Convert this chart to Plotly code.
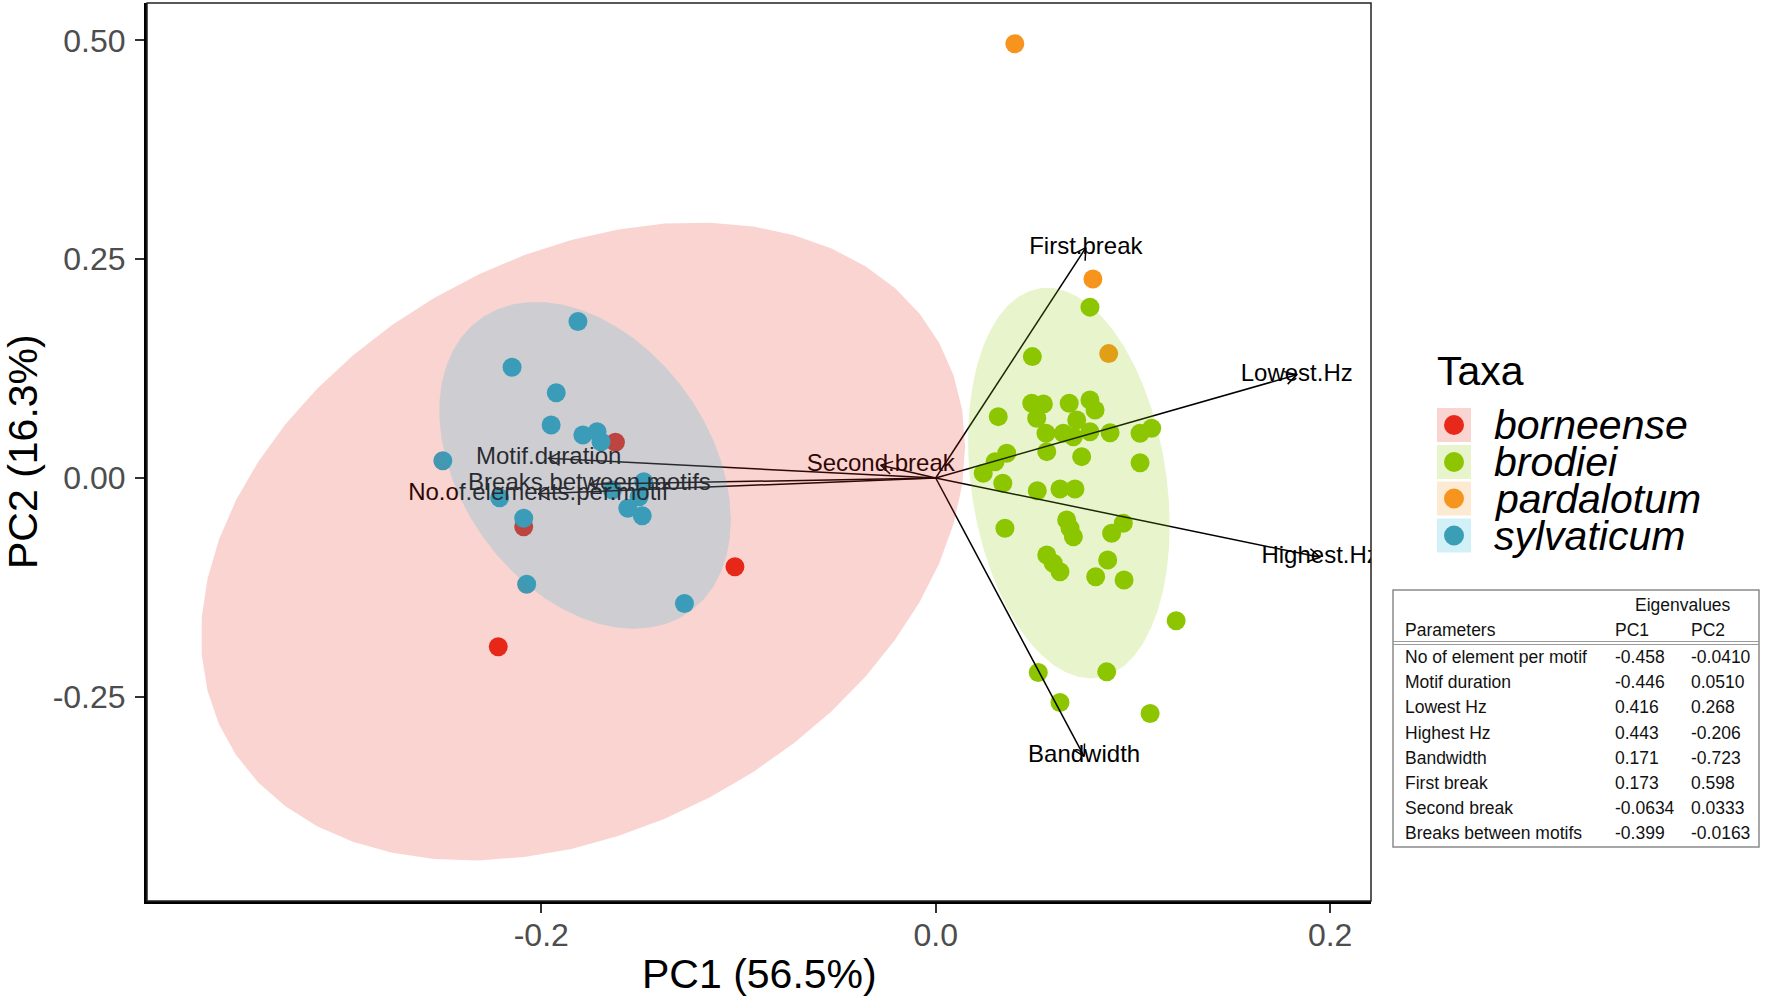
import numpy as np
import plotly.graph_objects as go

# ---------------- data ----------------
TAXA = ["borneense", "brodiei", "pardalotum", "sylvaticum"]
TAXA_COLORS = ["#E8281A", "#8DC600", "#F7941D", "#1BB3D7"]
LEGEND_DOT_COLORS = ["#E8281A", "#8DC600", "#F7941D", "#3A9FB4"]

BORNEENSE_PC1 = [-0.1624, -0.2089, -0.1018, -0.2218]
BORNEENSE_PC2 = [0.0408, -0.0557, -0.1014, -0.1929]

BRODIEI_PC1 = [0.0782, 0.0490, 0.0317, 0.0487, 0.0546, 0.0512, 0.0677, 0.0782, 0.0808, 0.0715,
               0.0559, 0.0647, 0.0698, 0.0782, 0.0884, 0.1036, 0.1095, 0.0360, 0.0301, 0.0241,
               0.0563, 0.0740, 0.1036, 0.0340, 0.0515, 0.0630, 0.0706, 0.0351, 0.0664, 0.0681,
               0.0698, 0.0892, 0.0951, 0.0563, 0.0596, 0.0630, 0.0872, 0.0811, 0.0955, 0.1219,
               0.0520, 0.0867, 0.0630, 0.1087]
BRODIEI_PC2 = [0.1952, 0.1387, 0.0701, 0.0854, 0.0846, 0.0683, 0.0854, 0.0892, 0.0777, 0.0663,
               0.0511, 0.0511, 0.0472, 0.0529, 0.0518, 0.0511, 0.0568, 0.0282, 0.0186, 0.0054,
               0.0301, 0.0244, 0.0175, -0.0061, -0.0145, -0.0126, -0.0126, -0.0575, -0.0480, -0.0575,
               -0.0671, -0.0632, -0.0518, -0.0880, -0.0975, -0.1071, -0.0938, -0.1129, -0.1166, -0.1632,
               -0.2222, -0.2215, -0.2565, -0.2690]

PARDALOTUM_PC1 = [0.0401, 0.0797, 0.0877]
PARDALOTUM_PC2 = [0.4961, 0.2274, 0.1421]

SYLVATICUM_PC1 = [-0.1814, -0.2148, -0.1924, -0.1950, -0.1789, -0.1717, -0.1697, -0.2499, -0.1480,
                  -0.1639, -0.2211, -0.1504, -0.1561, -0.1488, -0.2089, -0.2074, -0.1274]
SYLVATICUM_PC2 = [0.1787, 0.1266, 0.0975, 0.0606, 0.0492, 0.0529, 0.0415, 0.0198, -0.0042,
                  -0.0137, -0.0225, -0.0214, -0.0346, -0.0431, -0.0461, -0.1215, -0.1433]

TAXA_PC1 = [BORNEENSE_PC1, BRODIEI_PC1, PARDALOTUM_PC1, SYLVATICUM_PC1]
TAXA_PC2 = [BORNEENSE_PC2, BRODIEI_PC2, PARDALOTUM_PC2, SYLVATICUM_PC2]
ELLIPSE_TAXA = ["borneense", "brodiei", "sylvaticum"]

# variable loadings (eigenvectors)
VAR_LABELS = ["No.of.elements.per.motif", "Motif.duration", "Lowest.Hz", "Highest.Hz",
              "Bandwidth", "First.break", "Second.break", "Breaks.between.motifs"]
TABLE_PARAMS = ["No of element per motif", "Motif duration", "Lowest Hz", "Highest Hz",
                "Bandwidth", "First break", "Second break", "Breaks between motifs"]
LOAD_PC1 = [-0.458, -0.446, 0.416, 0.443, 0.171, 0.173, -0.0634, -0.399]
LOAD_PC2 = [-0.0410, 0.0510, 0.268, -0.206, -0.723, 0.598, 0.0333, -0.0163]
LOAD_PC1_TXT = ["-0.458", "-0.446", "0.416", "0.443", "0.171", "0.173", "-0.0634", "-0.399"]
LOAD_PC2_TXT = ["-0.0410", "0.0510", "0.268", "-0.206", "-0.723", "0.598", "0.0333", "-0.0163"]
ARROW_SCALE = 0.44

X_TICKS = [-0.2, 0.0, 0.2]
X_TICK_TEXT = ["-0.2", "0.0", "0.2"]
Y_TICKS = [-0.25, 0.0, 0.25, 0.50]
Y_TICK_TEXT = ["-0.25", "0.00", "0.25", "0.50"]
X_TITLE = "PC1 (56.5%)"
Y_TITLE = "PC2 (16.3%)"

# ---------------- layout geometry ----------------
W, H = 1772, 1003
ML, MR, MT, MB = 147, 401, 3, 102
PW, PH = W - ML - MR, H - MT - MB
X_RANGE = [-0.3999, 0.2207]
Y_RANGE = [-0.4833, 0.5427]
SX = PW / (X_RANGE[1] - X_RANGE[0])
SY = PH / (Y_RANGE[1] - Y_RANGE[0])
FONT = "Liberation Sans, Arial, Helvetica, sans-serif"


def px_x(px):
    return (px - ML) / PW


def px_y(py):
    return (H - MB - py) / PH


def rgba(hexc, a):
    h = hexc.lstrip("#")
    r, g, b = int(h[0:2], 16), int(h[2:4], 16), int(h[4:6], 16)
    return f"rgba({r},{g},{b},{a})"


# ---------------- ellipse (ggplot2 stat_ellipse, type = "t") ----------------
def cov_trob(X, nu=5, maxit=25, tol=0.01):
    n, p = X.shape
    wt = np.ones(n)
    loc = X.mean(axis=0)
    w = np.sqrt(wt)
    Xc = X - loc
    for _ in range(maxit):
        w0 = w
        Xc = X - loc
        A = np.sqrt(w / w.sum())[:, None] * Xc
        _, d, Vt = np.linalg.svd(A, full_matrices=False)
        wX = Xc @ Vt.T @ np.diag(1.0 / d)
        Q = (wX ** 2).sum(axis=1)
        w = wt * (nu + p) / (nu + Q)
        loc = (w[:, None] * X).sum(axis=0) / w.sum()
        if np.all(np.abs(w - w0) < tol):
            break
    B = np.sqrt(w)[:, None] * Xc
    cov = B.T @ B / wt.sum()
    return loc, cov


def qf2(p, d2):
    # quantile of F(2, d2)
    return (d2 / 2.0) * ((1.0 - p) ** (-2.0 / d2) - 1.0)


def ellipse_path(xs, ys, level=0.95, segments=51):
    X = np.column_stack([xs, ys])
    center, shape = cov_trob(X)
    R = np.linalg.cholesky(shape).T
    radius = np.sqrt(2 * qf2(level, X.shape[0] - 1))
    ang = np.arange(segments + 1) * 2 * np.pi / segments
    circ = np.column_stack([np.cos(ang), np.sin(ang)])
    e = center + radius * (circ @ R)
    return e[:, 0], e[:, 1]


fig = go.Figure()

# points
for name, col, xs, ys in zip(TAXA, TAXA_COLORS, TAXA_PC1, TAXA_PC2):
    fig.add_trace(go.Scatter(x=xs, y=ys, mode="markers", name=name, showlegend=False,
                             marker=dict(size=19, color=col, line=dict(width=0))))

# arrows
AH_LEN = 13.0
AH_ANG = np.deg2rad(30)
ax_, ay_ = [], []
for lx, ly in zip(LOAD_PC1, LOAD_PC2):
    tx, ty = lx * ARROW_SCALE, ly * ARROW_SCALE
    ax_ += [0, tx, None]
    ay_ += [0, ty, None]
    dx, dy = tx * SX, ty * SY
    nrm = np.hypot(dx, dy)
    ux, uy = dx / nrm, dy / nrm
    pts = []
    for s in (1, -1):
        c, sn = np.cos(s * AH_ANG), np.sin(s * AH_ANG)
        rx, ry = ux * c - uy * sn, ux * sn + uy * c
        pts.append((tx - AH_LEN * rx / SX, ty - AH_LEN * ry / SY))
    ax_ += [pts[0][0], tx, pts[1][0], None]
    ay_ += [pts[0][1], ty, pts[1][1], None]
fig.add_trace(go.Scatter(x=ax_, y=ay_, mode="lines", showlegend=False,
                         line=dict(color="black", width=1.5), hoverinfo="skip"))

fig.add_trace(go.Scatter(x=[v * ARROW_SCALE for v in LOAD_PC1],
                         y=[v * ARROW_SCALE for v in LOAD_PC2],
                         mode="text", text=VAR_LABELS, textposition="middle center",
                         textfont=dict(family=FONT, size=24, color="black"),
                         showlegend=False, hoverinfo="skip"))

# ellipses (drawn on top, translucent)
for name, col, xs, ys in zip(TAXA, TAXA_COLORS, TAXA_PC1, TAXA_PC2):
    if name not in ELLIPSE_TAXA:
        continue
    ex, ey = ellipse_path(np.array(xs), np.array(ys))
    fig.add_trace(go.Scatter(x=ex, y=ey, mode="lines", fill="toself",
                             fillcolor=rgba(col, 0.2), line=dict(width=0, color=rgba(col, 0)),
                             showlegend=False, hoverinfo="skip"))

shapes = []
annotations = []

# panel border (thin) on top / right
shapes.append(dict(type="rect", xref="paper", yref="paper", x0=0, x1=1, y0=0, y1=1,
                   line=dict(color="#222", width=1.5), layer="above"))

# axis titles
annotations.append(dict(text=X_TITLE, xref="paper", yref="paper", x=0.5, y=px_y(974),
                        xanchor="center", yanchor="middle", showarrow=False,
                        font=dict(family=FONT, size=41, color="black")))
annotations.append(dict(text=Y_TITLE, xref="paper", yref="paper", x=px_x(23), y=0.5,
                        xanchor="center", yanchor="middle", showarrow=False, textangle=-90,
                        font=dict(family=FONT, size=41, color="black")))

# legend (manual)
annotations.append(dict(text="Taxa", xref="paper", yref="paper", x=px_x(1435), y=px_y(371),
                        xanchor="left", yanchor="middle", showarrow=False,
                        font=dict(family=FONT, size=41, color="black")))
KEY_Y = [425, 462, 498.5, 535.5]
for name, col, dcol, ky in zip(TAXA, TAXA_COLORS, LEGEND_DOT_COLORS, KEY_Y):
    shapes.append(dict(type="rect", xref="paper", yref="paper",
                       x0=px_x(1437), x1=px_x(1471), y0=px_y(ky + 17), y1=px_y(ky - 17),
                       fillcolor=rgba(col, 0.2), line=dict(width=0), layer="above"))
    shapes.append(dict(type="circle", xref="paper", yref="paper",
                       x0=px_x(1444), x1=px_x(1464), y0=px_y(ky + 10), y1=px_y(ky - 10),
                       fillcolor=dcol, line=dict(width=0), layer="above"))
    annotations.append(dict(text=name, xref="paper", yref="paper", x=px_x(1492), y=px_y(ky),
                            xanchor="left", yanchor="middle", showarrow=False,
                            font=dict(family=FONT, size=41, color="black", style="italic")))

# eigenvalue table
TF = 17.5
shapes.append(dict(type="rect", xref="paper", yref="paper",
                   x0=px_x(1393), x1=px_x(1759), y0=px_y(847), y1=px_y(590),
                   line=dict(color="#8a8a8a", width=1.5), fillcolor="white", layer="above"))
for yy in (641.5, 644.5):
    shapes.append(dict(type="line", xref="paper", yref="paper",
                       x0=px_x(1393), x1=px_x(1759), y0=px_y(yy), y1=px_y(yy),
                       line=dict(color="#9a9a9a", width=1), layer="above"))


def tab_text(txt, px, py, anchor="left"):
    annotations.append(dict(text=txt, xref="paper", yref="paper", x=px_x(px), y=px_y(py),
                            xanchor=anchor, yanchor="middle", showarrow=False,
                            font=dict(family=FONT, size=TF, color="#111")))


tab_text("Eigenvalues", 1683, 605, "center")
tab_text("Parameters", 1403, 630)
tab_text("PC1", 1613, 630)
tab_text("PC2", 1689, 630)
for i, (p, a, b) in enumerate(zip(TABLE_PARAMS, LOAD_PC1_TXT, LOAD_PC2_TXT)):
    yy = 657 + i * 25.2
    tab_text(p, 1403, yy)
    tab_text(a, 1613, yy)
    tab_text(b, 1689, yy)

fig.update_layout(
    width=W, height=H,
    margin=dict(l=ML, r=MR, t=MT, b=MB, pad=0),
    paper_bgcolor="white", plot_bgcolor="white",
    showlegend=False,
    shapes=shapes, annotations=annotations,
    xaxis=dict(range=X_RANGE, tickvals=X_TICKS, ticktext=X_TICK_TEXT, showgrid=False,
               zeroline=False, showline=True, linecolor="black", linewidth=3,
               ticks="outside", ticklen=9, tickwidth=2, tickcolor="#333",
               ticklabelstandoff=-5,
               tickfont=dict(family=FONT, size=32, color="#4D4D4D")),
    yaxis=dict(range=Y_RANGE, tickvals=Y_TICKS, ticktext=Y_TICK_TEXT, showgrid=False,
               zeroline=False, showline=True, linecolor="black", linewidth=3,
               ticks="outside", ticklen=9, tickwidth=2, tickcolor="#333",
               ticklabelstandoff=3,
               tickfont=dict(family=FONT, size=32, color="#4D4D4D")),
)

fig.write_html("out.html", config={"displayModeBar": False},
               post_script="document.body.style.margin='0px';document.body.style.overflow='hidden';")
